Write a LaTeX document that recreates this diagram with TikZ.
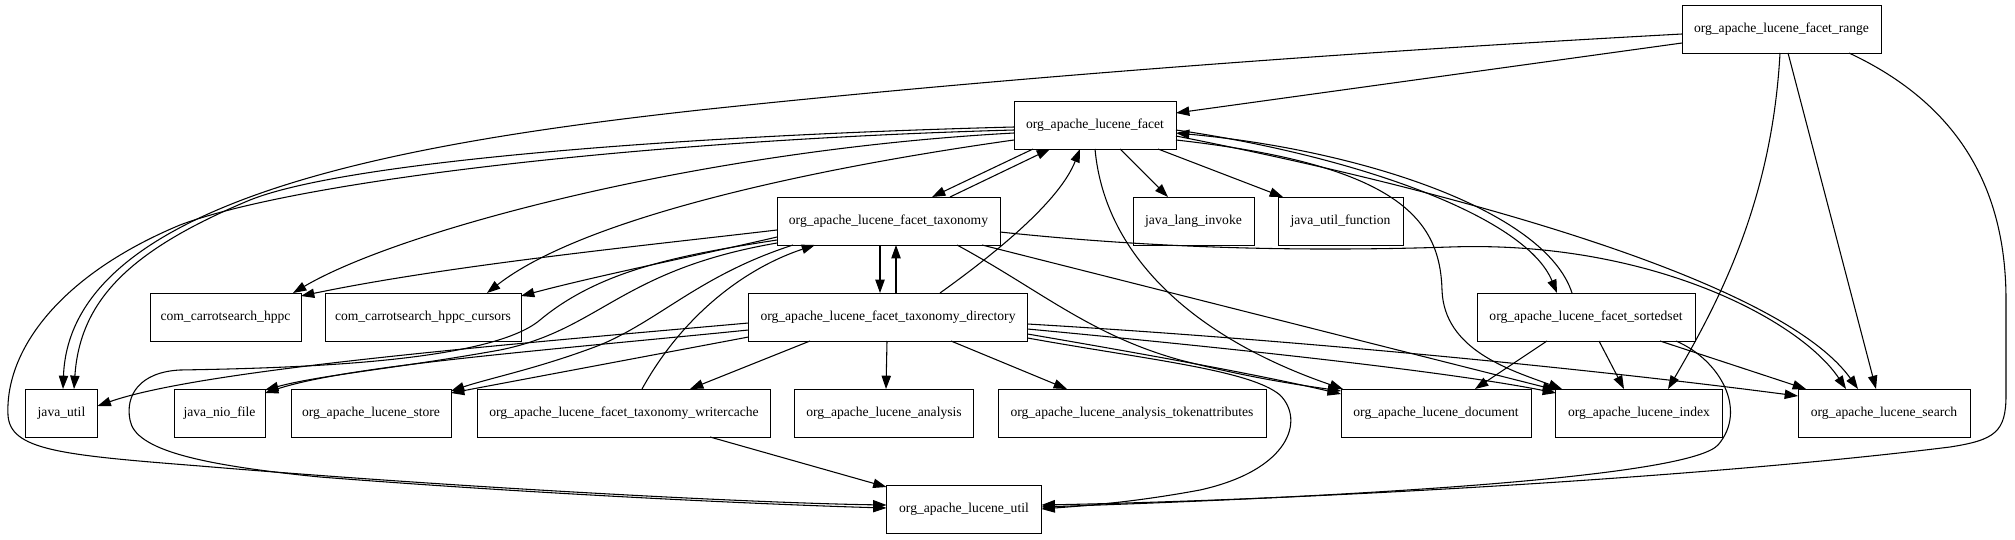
\documentclass[tikz,border=0pt]{standalone}
\usepackage{fontspec}
\setmainfont{Liberation Serif}
\usetikzlibrary{arrows.meta,calc}
\tikzset{
  pkg/.style={draw, line width=0.75pt, minimum height=36pt, inner xsep=2pt, inner ysep=0pt, font=\fontsize{10.2}{12}\selectfont},
  e/.style={-{Triangle[length=10pt,width=7pt]}, line width=0.8pt}
}
\begin{document}
\begin{tikzpicture}[x=0.75pt,y=-0.75pt]
\useasboundingbox (0,0) rectangle (2015,539);
% nodes
\node[pkg, minimum width=149.25pt] (range) at (1781.5,29) {org\_apache\_lucene\_facet\_range};
\node[pkg, minimum width=121.5pt] (facet) at (1095,125) {org\_apache\_lucene\_facet};
\node[pkg, minimum width=167.25pt] (taxonomy) at (888.5,221) {org\_apache\_lucene\_facet\_taxonomy};
\node[pkg, minimum width=90.75pt] (invoke) at (1193.5,221) {java\_lang\_invoke};
\node[pkg, minimum width=93.75pt] (function) at (1340.5,221) {java\_util\_function};
\node[pkg, minimum width=113.25pt] (hppc) at (225.5,317) {com\_carrotsearch\_hppc};
\node[pkg, minimum width=147pt] (cursors) at (423,317) {com\_carrotsearch\_hppc\_cursors};
\node[pkg, minimum width=209.25pt] (directory) at (888,317) {org\_apache\_lucene\_facet\_taxonomy\_directory};
\node[pkg, minimum width=163.5pt] (sortedset) at (1586,317) {org\_apache\_lucene\_facet\_sortedset};
\node[pkg, minimum width=54pt] (javautil) at (61.5,413) {java\_util};
\node[pkg, minimum width=68.25pt] (nio) at (219.5,413) {java\_nio\_file};
\node[pkg, minimum width=120pt] (store) at (371,413) {org\_apache\_lucene\_store};
\node[pkg, minimum width=219.75pt] (writercache) at (624,413) {org\_apache\_lucene\_facet\_taxonomy\_writercache};
\node[pkg, minimum width=134.25pt] (analysis) at (884,413) {org\_apache\_lucene\_analysis};
\node[pkg, minimum width=201pt] (tokenattr) at (1132,413) {org\_apache\_lucene\_analysis\_tokenattributes};
\node[pkg, minimum width=142.5pt] (document) at (1436,413) {org\_apache\_lucene\_document};
\node[pkg, minimum width=125.25pt] (index) at (1639,413) {org\_apache\_lucene\_index};
\node[pkg, minimum width=129pt] (search) at (1884,413) {org\_apache\_lucene\_search};
\node[pkg, minimum width=116.25pt] (util) at (964,509) {org\_apache\_lucene\_util};

% range
\draw[e] ($(range.center)+(-99.5,14)$) -- ($(facet.center)+(81,-12)$);
\draw[e] ($(range.center)+(-99.5,5)$) .. controls (1350,52) and (1000,78) .. (700,110) .. controls (400,143) and (70,200) .. ($(javautil.center)+(1.5,-24)$);
\draw[e] ($(range.center)+(-1.5,24)$) .. controls (1772,200) and (1720,300) .. ($(index.center)+(29,-24)$);
\draw[e] ($(range.center)+(6.5,24)$) -- ($(search.center)+(-8,-24)$);
\draw[e] ($(range.center)+(67.5,24)$) .. controls (1960,105) and (2006,190) .. (2006,300) -- (2006,395) .. controls (2006,432) and (1995,440) .. (1950,447) .. controls (1700,478) and (1300,500) .. ($(util.center)+(77.5,-4)$);

% facet
\draw[e] ($(facet.center)+(-62,24)$) -- ($(taxonomy.center)+(43.5,-24)$);
\draw[e] ($(facet.center)+(25,24)$) -- ($(invoke.center)+(-25.5,-24)$);
\draw[e] ($(facet.center)+(63,24)$) -- ($(function.center)+(-57.5,-24)$);
\draw[e] ($(facet.center)+(-81,8)$) .. controls (700,150) and (400,230) .. ($(hppc.center)+(67.5,-24)$);
\draw[e] ($(facet.center)+(-81,15)$) .. controls (800,170) and (580,220) .. ($(cursors.center)+(64,-24)$);
\draw[e] ($(facet.center)+(-81,2)$) .. controls (700,135) and (350,160) .. (250,200) .. controls (130,250) and (80,300) .. ($(javautil.center)+(12.5,-24)$);
\draw[e] ($(facet.center)+(-81,5)$) .. controls (650,140) and (300,180) .. (180,225) .. controls (60,275) and (5,350) .. (8,415) .. controls (10,450) and (60,455) .. (200,466) .. controls (450,487) and (750,503) .. ($(util.center)+(-77.5,-4)$);
\draw[e] ($(facet.center)+(0,24)$) .. controls (1105,260) and (1200,340) .. ($(document.center)+(-93,-24)$);
\draw[e] ($(facet.center)+(81,5)$) .. controls (1350,155) and (1525,215) .. ($(sortedset.center)+(-29,-24)$);
\draw[e] ($(facet.center)+(81,15)$) .. controls (1400,165) and (1440,220) .. (1442,290) .. controls (1444,350) and (1510,370) .. ($(index.center)+(-77,-24)$);
\draw[e] ($(facet.center)+(81,11)$) .. controls (1450,190) and (1780,280) .. ($(search.center)+(-26,-24)$);

% taxonomy
\draw[e] ($(taxonomy.center)+(61.5,-24)$) -- ($(facet.center)+(-45,24)$);
\draw[e] ($(taxonomy.center)+(-8.5,24)$) -- ($(directory.center)+(-8,-24)$);
\draw[e] ($(taxonomy.center)+(-111.5,9)$) .. controls (650,245) and (450,265) .. ($(hppc.center)+(75.5,-21)$);
\draw[e] ($(taxonomy.center)+(-111.5,16)$) .. controls (700,255) and (600,275) .. ($(cursors.center)+(98,-21)$);
\draw[e] ($(taxonomy.center)+(-111.5,22)$) .. controls (620,270) and (600,330) .. (500,350) .. controls (400,368) and (320,375) .. ($(nio.center)+(45.5,-23)$);
\draw[e] ($(taxonomy.center)+(-95.5,24)$) .. controls (700,275) and (660,320) .. (600,345) .. controls (540,368) and (490,378) .. ($(store.center)+(80,-22)$);
\draw[e] ($(taxonomy.center)+(-111.5,19)$) .. controls (680,255) and (600,270) .. (540,320) .. controls (490,362) and (300,368) .. (180,370) .. controls (140,372) and (125,395) .. (130,420) .. controls (135,450) and (200,465) .. (320,477) .. controls (550,495) and (780,505) .. ($(util.center)+(-77.5,-1)$);
\draw[e] ($(taxonomy.center)+(68.5,24)$) .. controls (1040,290) and (1090,335) .. (1180,360) .. controls (1250,378) and (1300,385) .. ($(document.center)+(-95,-22)$);
\draw[e] ($(taxonomy.center)+(93.5,24)$) -- ($(index.center)+(-83,-23)$);
\draw[e] ($(taxonomy.center)+(111.5,11)$) .. controls (1150,248) and (1300,252) .. (1450,247) .. controls (1650,240) and (1800,320) .. ($(search.center)+(-38,-24)$);

% directory
\draw[e] ($(directory.center)+(8,-24)$) -- ($(taxonomy.center)+(7.5,24)$);
\draw[e] ($(directory.center)+(52,-24)$) .. controls (1000,250) and (1060,200) .. ($(facet.center)+(-15,24)$);
\draw[e] ($(directory.center)+(-139.5,6)$) .. controls (500,345) and (200,370) .. ($(javautil.center)+(36,-7)$);
\draw[e] ($(directory.center)+(-139.5,13)$) .. controls (550,350) and (350,365) .. ($(nio.center)+(45.5,-20)$);
\draw[e] ($(directory.center)+(-139.5,20)$) -- ($(store.center)+(80,-20)$);
\draw[e] ($(directory.center)+(-78,24)$) -- ($(writercache.center)+(66,-24)$);
\draw[e] ($(directory.center)+(-1,24)$) -- ($(analysis.center)+(2,-24)$);
\draw[e] ($(directory.center)+(63,24)$) -- ($(tokenattr.center)+(-65,-24)$);
\draw[e] ($(directory.center)+(139.5,17)$) .. controls (1150,355) and (1260,375) .. ($(document.center)+(-95,-19)$);
\draw[e] ($(directory.center)+(139.5,12)$) .. controls (1250,350) and (1450,372) .. ($(index.center)+(-83,-20)$);
\draw[e] ($(directory.center)+(139.5,7)$) .. controls (1300,340) and (1600,370) .. ($(search.center)+(-86,-17)$);
\draw[e] ($(directory.center)+(139.5,21)$) .. controls (1150,360) and (1250,370) .. (1280,395) .. controls (1305,420) and (1290,470) .. (1200,490) .. controls (1130,503) and (1080,506) .. ($(util.center)+(77.5,0)$);

% writercache
\draw[e] ($(writercache.center)+(18,-24)$) .. controls (680,320) and (740,270) .. ($(taxonomy.center)+(-73.5,24)$);
\draw[e] ($(writercache.center)+(86,24)$) -- ($(util.center)+(-77.5,-22)$);

% sortedset
\draw[e] ($(sortedset.center)+(-14,-24)$) .. controls (1545,210) and (1360,150) .. ($(facet.center)+(81,8)$);
\draw[e] ($(sortedset.center)+(-39,24)$) -- ($(document.center)+(39,-24)$);
\draw[e] ($(sortedset.center)+(13,24)$) -- ($(index.center)+(-15,-24)$);
\draw[e] ($(sortedset.center)+(74,24)$) -- ($(search.center)+(-78,-24)$);
\draw[e] ($(sortedset.center)+(90,24)$) .. controls (1720,360) and (1748,410) .. (1718,445) .. controls (1690,475) and (1400,495) .. ($(util.center)+(77.5,-2)$);
\end{tikzpicture}
\end{document}
